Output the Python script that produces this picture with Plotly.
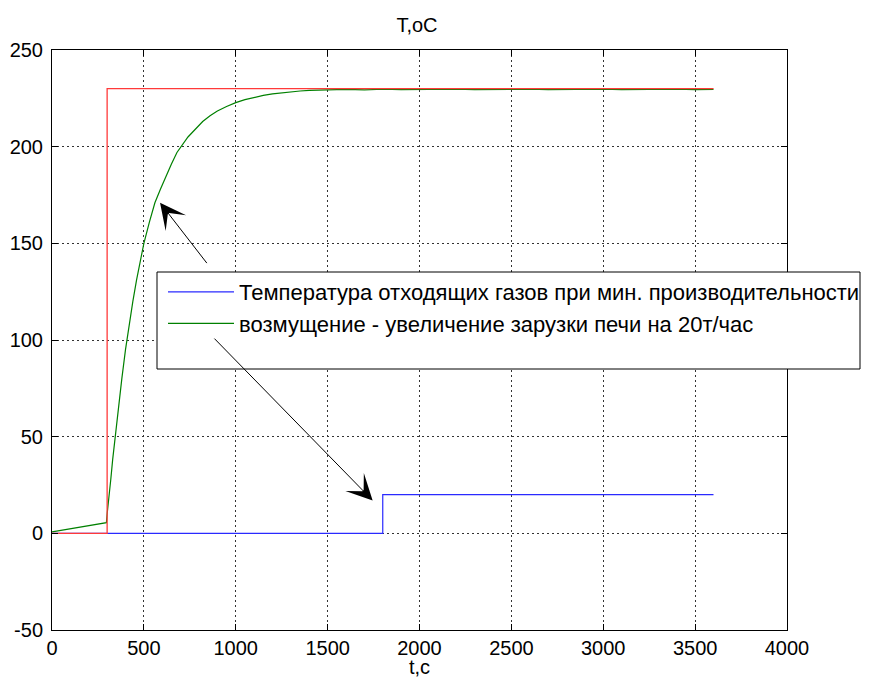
import plotly.graph_objects as go

# ---- data ----
blue_t = [0, 1800, 1800, 3600]
blue_v = [0, 0, 20, 20]

red_t = [0, 300, 300, 3600]
red_v = [0, 0, 230, 230]

green_t = [0, 40, 80, 120, 160, 200, 240, 280, 296, 300, 305, 310, 320, 330, 340, 350,
           360, 380, 400, 420, 440, 460, 480, 500, 530, 560, 590, 620, 650, 680, 710,
           740, 780, 820, 860, 900, 950, 1000, 1050, 1100, 1150, 1200, 1250, 1300,
           1350, 1400, 1450, 1500, 1600, 1700, 1800, 1900, 2000, 2100, 2200, 2300,
           2400, 2500, 2600, 2700, 2800, 2900, 3000, 3100, 3200, 3300, 3400, 3500, 3600]
green_v = [0.8, 1.4, 2.2, 2.8, 3.3, 3.9, 4.6, 5.2, 5.5, 10, 15.5, 20, 28, 38, 47, 56,
           64, 80, 95, 108, 120, 131, 141, 150, 161, 171, 178, 185, 191, 197, 201,
           205, 209, 213, 216, 218.5, 220.8, 222.8, 224.3, 225.5, 226.5, 227.3, 227.9,
           228.4, 228.8, 229.1, 229.3, 229.5, 229.6, 229.4, 229.7, 229.5, 229.6, 229.4,
           229.7, 229.5, 229.6, 229.4, 229.7, 229.5, 229.6, 229.4, 229.7, 229.5, 229.6,
           229.4, 229.7, 229.5, 229.6]

x_ticks = [0, 500, 1000, 1500, 2000, 2500, 3000, 3500, 4000]
y_ticks = [-50, 0, 50, 100, 150, 200, 250]

name_blue = "Температура отходящих газов при мин. производительности"
name_green = "возмущение - увеличение зарузки печи на 20т/час"
title_text = "T,oC"
xlabel = "t,c"

# arrows: (tip_t, tip_v, tail_t, tail_v)
arrow1 = (588, 171, 849, 139)
arrow2 = (1745, 17, 876, 101.5)

FONT = "Liberation Sans, Arial, Helvetica, sans-serif"
OFF = 8                              # page body margin of the html page
W, H = 869 - 2 * OFF, 686 - 2 * OFF  # figure fits the window without scrollbars
PL, PR, PT, PB = 52, 787, 50, 630    # target plot area in screen pixels
PW, PH = PR - PL, PB - PT

fig = go.Figure()
fig.add_trace(go.Scatter(x=blue_t, y=blue_v, mode="lines", name=name_blue,
                         line=dict(color="#2a2aff", width=1.2), legendgroup="a"))
fig.add_trace(go.Scatter(x=green_t, y=green_v, mode="lines", name=name_green,
                         line=dict(color="#008000", width=1.2), legendgroup="b"))
fig.add_trace(go.Scatter(x=red_t, y=red_v, mode="lines", showlegend=False,
                         line=dict(color="#ff3a3a", width=1.3)))

for tip_t, tip_v, tail_t, tail_v in (arrow1, arrow2):
    fig.add_annotation(x=tip_t, y=tip_v, ax=tail_t, ay=tail_v, xref="x", yref="y",
                       axref="x", ayref="y", text="", showarrow=True,
                       arrowhead=3, arrowsize=4.3, arrowwidth=1, arrowcolor="black",
                       standoff=0, startstandoff=0)

# x-axis label
fig.add_annotation(x=0.5, y=(PB - 667) / PH, xref="paper", yref="paper", text=xlabel,
                   showarrow=False, xanchor="center", yanchor="middle",
                   font=dict(family=FONT, size=20, color="black"))

# legend box drawn as a white rectangle (paper coords)
fig.add_shape(type="rect", xref="paper", yref="paper",
              x0=(157 - PL) / PW, x1=(860 - PL) / PW,
              y0=(PB - 369) / PH, y1=(PB - 272) / PH,
              line=dict(color="black", width=1), fillcolor="white", layer="above")

axis_common = dict(showline=True, linecolor="black", linewidth=1, mirror="ticks",
                   ticks="inside", ticklen=6, tickcolor="black", showgrid=True,
                   gridcolor="#333333", gridwidth=1, griddash="2px,3px",
                   zeroline=False, automargin=False,
                   tickfont=dict(family=FONT, size=20, color="black"))

fig.update_xaxes(range=[0, 4000], tickvals=x_ticks, ticktext=[str(v) for v in x_ticks],
                 **axis_common)
fig.update_yaxes(range=[-50, 250], tickvals=y_ticks, ticktext=[str(v) for v in y_ticks],
                 ticklabelstandoff=4, **axis_common)

ml = PL - OFF
mt = PT - OFF
fig.update_layout(
    width=W, height=H,
    margin=dict(l=ml, r=W - PW - ml, t=mt, b=H - PH - mt, pad=0, autoexpand=False),
    paper_bgcolor="white", plot_bgcolor="white",
    font=dict(family=FONT, size=20, color="black"),
    title=dict(text=title_text, x=(417 - PL) / PW, xref="paper", y=1 - (25 - OFF) / H,
               yref="container", xanchor="center", yanchor="middle",
               font=dict(family=FONT, size=20, color="black")),
    showlegend=True,
    legend=dict(x=(163 - PL) / PW, y=(PB - 271) / PH, xanchor="left", yanchor="top",
                bgcolor="rgba(0,0,0,0)", borderwidth=0, tracegroupgap=0,
                itemwidth=66,
                font=dict(family=FONT, size=22, color="black")),
)

fig.write_html("out.html")
